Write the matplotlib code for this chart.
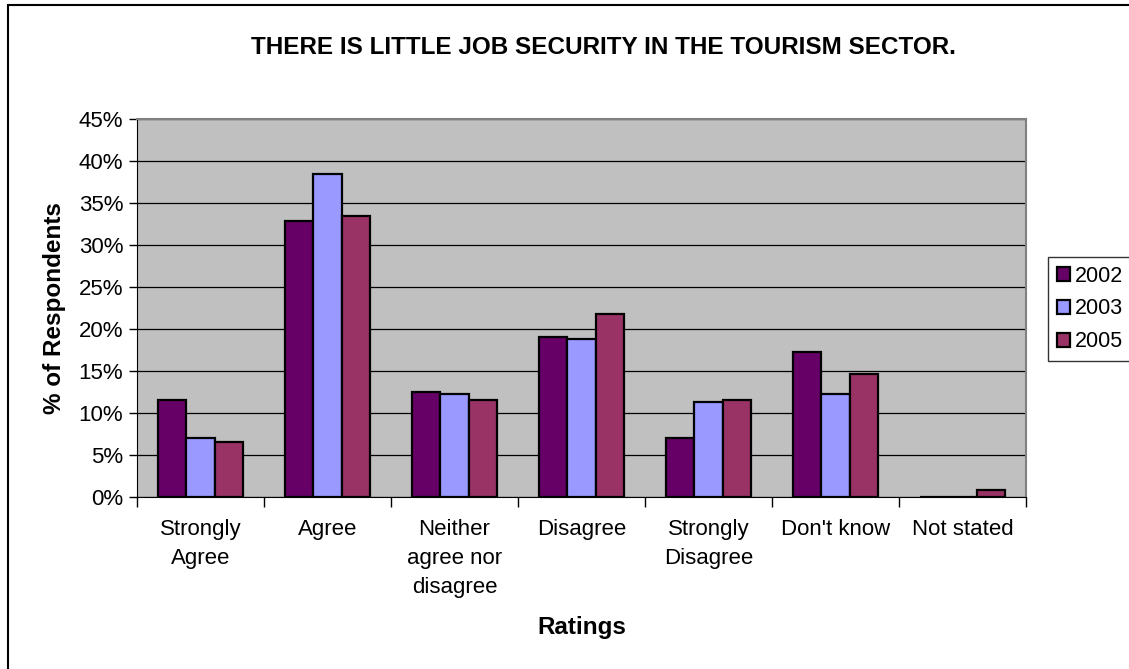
import matplotlib.pyplot as plt
import numpy as np
from matplotlib.patches import Rectangle
from matplotlib.ticker import FixedLocator, PercentFormatter

plt.rcParams["font.family"] = ["Liberation Sans", "DejaVu Sans"]

CATEGORIES = [
    "Strongly\nAgree",
    "Agree",
    "Neither\nagree nor\ndisagree",
    "Disagree",
    "Strongly\nDisagree",
    "Don't know",
    "Not stated",
]
YEARS = ["2002", "2003", "2005"]
PCT_2002 = [11.5, 32.8, 12.5, 19.0, 7.0, 17.3, 0.0]
PCT_2003 = [7.0, 38.5, 12.3, 18.8, 11.3, 12.3, 0.0]
PCT_2005 = [6.6, 33.5, 11.5, 21.8, 11.5, 14.6, 0.8]
COLORS = ["#660066", "#9999FF", "#993366"]

W, H = 1129, 669
fig = plt.figure(figsize=(W / 100, H / 100), dpi=100)
# chart frame (right and bottom edges fall outside the canvas)
fig.patches.append(Rectangle((8 / W, -0.05), 1.2, 1 - 5 / H + 0.05,
                             transform=fig.transFigure, fill=False,
                             edgecolor="black", linewidth=1.5))

ax = fig.add_axes([137 / W, 1 - 497 / H, (1026 - 137) / W, (497 - 119) / H])
ax.set_facecolor("#C0C0C0")

x = np.arange(len(CATEGORIES))
bar_w = 1 / 4.5
for i, (vals, year) in enumerate(zip([PCT_2002, PCT_2003, PCT_2005], YEARS)):
    ax.bar(x + (i - 1) * bar_w, vals, width=bar_w, color=COLORS[i],
           edgecolor="black", linewidth=1.6, label=year, zorder=3)

ax.set_xlim(-0.5, len(CATEGORIES) - 0.5)
ax.set_ylim(0, 45)
ax.set_yticks(np.arange(0, 46, 5))
ax.yaxis.set_major_formatter(PercentFormatter(decimals=0))
ax.yaxis.grid(True, color="black", linewidth=0.9, zorder=1)
ax.set_axisbelow(True)

ax.set_xticks(x)
ax.set_xticklabels(CATEGORIES, fontsize=16, linespacing=1.5, va="top")
ax.tick_params(axis="x", which="major", length=0, pad=16)
ax.xaxis.set_minor_locator(FixedLocator(np.arange(-0.5, len(CATEGORIES), 1)))
ax.tick_params(axis="x", which="minor", length=7, width=1, color="black")
ax.tick_params(axis="y", length=6, width=1, labelsize=16, pad=4)

for side in ("top", "right"):
    ax.spines[side].set_color("#808080")
    ax.spines[side].set_linewidth(1.5)
ax.spines["left"].set_color("black")
ax.spines["bottom"].set_color("black")

ax.set_ylabel("% of Respondents", fontsize=17.5, fontweight="bold", labelpad=9)
ax.set_xlabel("Ratings", fontsize=17.5, fontweight="bold", labelpad=13)
fig.text(603 / W, 1 - 47 / H, "THERE IS LITTLE JOB SECURITY IN THE TOURISM SECTOR.",
         ha="center", va="center", fontsize=17.5, fontweight="bold")

leg = fig.legend(loc="upper left", bbox_to_anchor=(1048 / W, 1 - 257 / H),
                 fontsize=15.5, frameon=True, fancybox=False, edgecolor="black",
                 handlelength=0.6, handleheight=0.6, handletextpad=0.25,
                 borderpad=0.4, labelspacing=0.55, borderaxespad=0)
leg.get_frame().set_linewidth(1.0)

fig.savefig("out.png", dpi=100)
